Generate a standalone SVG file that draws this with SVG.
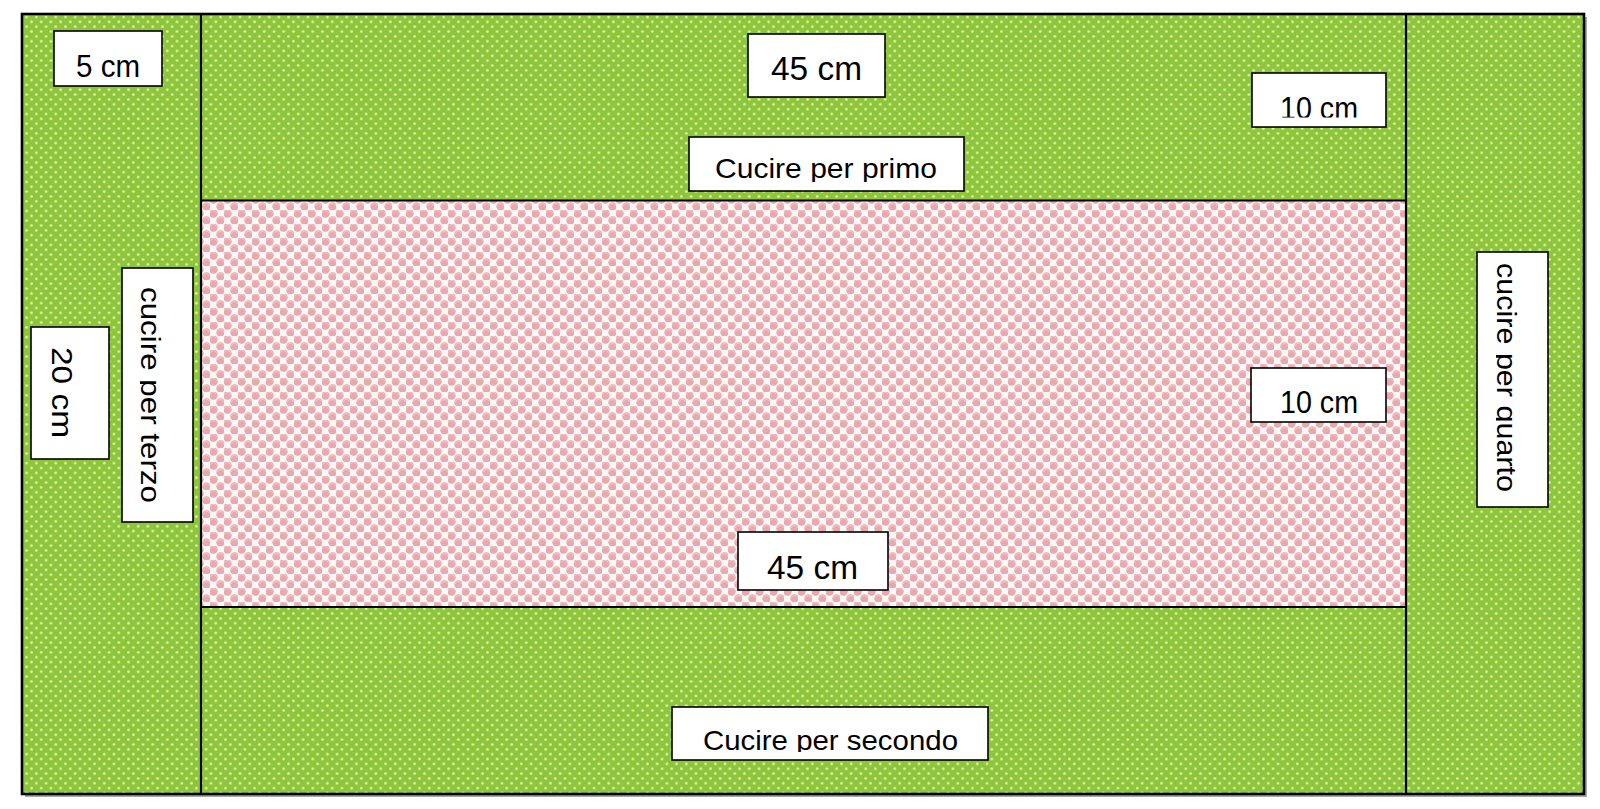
<svg xmlns="http://www.w3.org/2000/svg" width="1600" height="809" viewBox="0 0 1600 809">
  <style>
    .green { fill: url(#dots); }
    .pink { fill: url(#check); }
    .line { stroke: #000; stroke-width: 2.2; fill: none; }
    .box { fill: #fff; stroke: #000; stroke-width: 1.6; }
    .lbl { font-family: "Liberation Sans", "DejaVu Sans", sans-serif; fill: #000; text-anchor: middle; }
  </style>
  <defs>
    <pattern id="dots" width="9.7" height="9.7" patternUnits="userSpaceOnUse">
      <rect width="9.7" height="9.7" fill="#8dc53b"/>
      <circle cx="2.4" cy="2.4" r="1.3" fill="#eef8bc"/>
      <circle cx="7.25" cy="7.25" r="1.3" fill="#eef8bc"/>
    </pattern>
    <pattern id="check" width="14" height="14" patternUnits="userSpaceOnUse">
      <rect width="14" height="14" fill="#fdf6f6"/>
      <circle cx="3.5" cy="3.5" r="4.2" fill="#e8a8ac"/>
      <circle cx="10.5" cy="10.5" r="4.2" fill="#e8a8ac"/>
      <path d="M0.4 2.8 A3.2 3.2 0 0 1 6.6 2.8" fill="none" stroke="#f2c9cc" stroke-width="1"/>
      <path d="M7.4 9.8 A3.2 3.2 0 0 1 13.6 9.8" fill="none" stroke="#f2c9cc" stroke-width="1"/>
    </pattern>
    <clipPath id="c5"><rect x="54" y="31" width="108" height="46"/></clipPath>
    <clipPath id="c10a"><rect x="1252" y="73" width="134" height="44.5"/></clipPath>
    <clipPath id="c10b"><rect x="1251" y="368" width="135" height="45.5"/></clipPath>
    <clipPath id="cprimo"><rect x="689" y="137" width="275" height="45"/></clipPath>
    <clipPath id="csecondo"><rect x="672" y="707" width="316" height="45"/></clipPath>
    <clipPath id="c20"><rect x="51" y="327" width="58" height="132"/></clipPath>
    <clipPath id="cterzo"><rect x="140" y="268" width="53" height="254"/></clipPath>
    <clipPath id="cquarto"><rect x="1496" y="252" width="52" height="255"/></clipPath>
  </defs>

  <rect id="shadow" x="25" y="17" width="1562" height="780" fill="#a8a8a8"/>

  <g id="panels">
    <rect id="left-strip" class="green" x="22" y="14" width="179" height="780"/>
    <rect id="right-strip" class="green" x="1406" y="14" width="178" height="780"/>
    <rect id="top-strip" class="green" x="201" y="14" width="1205" height="186.5"/>
    <rect id="bottom-strip" class="green" x="201" y="607" width="1205" height="187"/>
    <rect id="center-panel" class="pink" x="201" y="200.5" width="1205" height="406.5"/>
  </g>

  <g id="seams">
    <line class="line" x1="201" y1="14" x2="201" y2="794"/>
    <line class="line" x1="1406" y1="14" x2="1406" y2="794"/>
    <line class="line" x1="201" y1="200.5" x2="1406" y2="200.5"/>
    <line class="line" x1="201" y1="607" x2="1406" y2="607"/>
    <rect class="line" x="22" y="14" width="1562" height="780" style="stroke-width:2.6"/>
  </g>

  <g id="label-5cm">
    <rect class="box" x="54" y="31" width="108" height="55"/>
    <text class="lbl" clip-path="url(#c5)" x="108" y="77" font-size="31" textLength="64" lengthAdjust="spacingAndGlyphs">5 cm</text>
  </g>

  <g id="label-45cm-top">
    <rect class="box" x="748" y="34" width="137" height="63"/>
    <text class="lbl" x="816.5" y="80" font-size="33" textLength="91" lengthAdjust="spacingAndGlyphs">45 cm</text>
  </g>

  <g id="label-10cm-top">
    <rect class="box" x="1252" y="73" width="134" height="54"/>
    <text class="lbl" clip-path="url(#c10a)" x="1319" y="119" font-size="32" textLength="78" lengthAdjust="spacingAndGlyphs">10 cm</text>
  </g>

  <g id="label-primo">
    <rect class="box" x="689" y="137" width="275" height="54"/>
    <text class="lbl" clip-path="url(#cprimo)" x="826" y="178" font-size="28" textLength="222" lengthAdjust="spacingAndGlyphs">Cucire per primo</text>
  </g>

  <g id="label-10cm-mid">
    <rect class="box" x="1251" y="368" width="135" height="54"/>
    <text class="lbl" clip-path="url(#c10b)" x="1319" y="413" font-size="32" textLength="78" lengthAdjust="spacingAndGlyphs">10 cm</text>
  </g>

  <g id="label-45cm-bottom">
    <rect class="box" x="738" y="532" width="150" height="58"/>
    <text class="lbl" x="812.5" y="579" font-size="33" textLength="91" lengthAdjust="spacingAndGlyphs">45 cm</text>
  </g>

  <g id="label-secondo">
    <rect class="box" x="672" y="707" width="316" height="53"/>
    <text class="lbl" clip-path="url(#csecondo)" x="830.5" y="750" font-size="28" textLength="255" lengthAdjust="spacingAndGlyphs">Cucire per secondo</text>
  </g>

  <g id="label-20cm">
    <rect class="box" x="31" y="327" width="78" height="132"/>
    <g clip-path="url(#c20)">
      <text class="lbl" transform="translate(52,392.5) rotate(90)" font-size="29" textLength="91" lengthAdjust="spacingAndGlyphs">20 cm</text>
    </g>
  </g>

  <g id="label-terzo">
    <rect class="box" x="122" y="268" width="71" height="254"/>
    <g clip-path="url(#cterzo)">
      <text class="lbl" transform="translate(141,395) rotate(90)" font-size="27" textLength="216" lengthAdjust="spacingAndGlyphs">cucire per terzo</text>
    </g>
  </g>

  <g id="label-quarto">
    <rect class="box" x="1477" y="252" width="71" height="255"/>
    <g clip-path="url(#cquarto)">
      <text class="lbl" transform="translate(1497,377.5) rotate(90)" font-size="27" textLength="229" lengthAdjust="spacingAndGlyphs">cucire per quarto</text>
    </g>
  </g>
</svg>
